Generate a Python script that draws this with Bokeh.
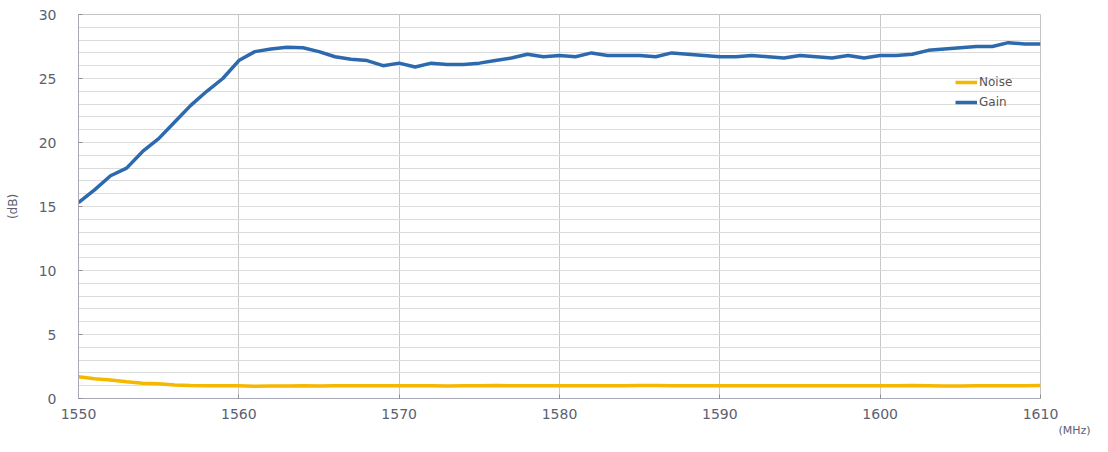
from bokeh.plotting import figure
from bokeh.models import Range1d, FixedTicker, Legend, LegendItem, ColumnDataSource, Title
from bokeh.embed import file_html
from bokeh.resources import INLINE

freq = list(range(1550, 1611))
gain = [15.3, 16.3, 17.4, 18.0, 19.3, 20.3, 21.6, 22.9, 24.0, 25.0,
        26.4, 27.1, 27.3, 27.45, 27.4, 27.1, 26.7, 26.5, 26.4, 26.0,
        26.2, 25.9, 26.2, 26.1, 26.1, 26.2, 26.4, 26.6, 26.9, 26.7,
        26.8, 26.7, 27.0, 26.8, 26.8, 26.8, 26.7, 27.0, 26.9, 26.8,
        26.7, 26.7, 26.8, 26.7, 26.6, 26.8, 26.7, 26.6, 26.8, 26.6,
        26.8, 26.8, 26.9, 27.2, 27.3, 27.4, 27.5, 27.5, 27.8, 27.7,
        27.7]
noise = [1.7, 1.55, 1.45, 1.3, 1.2, 1.15, 1.05, 1.02, 1.0, 1.0,
         1.0, 0.95, 0.97, 0.98, 1.0, 0.98, 1.0, 1.0, 1.0, 1.0,
         1.0, 1.0, 1.0, 0.98, 1.0, 1.0, 1.02, 1.0, 1.0, 1.0,
         1.0, 1.0, 1.0, 1.0, 1.0, 1.02, 1.02, 1.0, 1.0, 1.0,
         1.0, 1.0, 1.0, 1.0, 1.0, 1.0, 1.0, 1.0, 1.0, 1.0,
         1.0, 1.0, 1.02, 1.0, 0.97, 0.97, 1.0, 1.0, 1.0, 1.0,
         1.02]
x_ticks = [1550, 1560, 1570, 1580, 1590, 1600, 1610]
y_ticks = [0, 5, 10, 15, 20, 25, 30]

src = ColumnDataSource(dict(f=freq, gain=gain, noise=noise))

W, H = 1092, 436
p = figure(width=W, height=H, output_backend="svg", toolbar_location=None,
           x_range=Range1d(1550, 1610), y_range=Range1d(0, 30),
           min_border_left=78, min_border_right=52, min_border_top=14, min_border_bottom=0)
p.background_fill_color = "white"
p.outline_line_color = "#c4c4c4"

FONT = "DejaVu Sans"
LABEL_COLOR = "#5b6170"

p.xaxis.ticker = FixedTicker(ticks=x_ticks)
p.yaxis.ticker = FixedTicker(ticks=y_ticks, minor_ticks=list(range(0, 31)))
for ax in (p.xaxis, p.yaxis):
    ax.axis_line_color = "#a8a8b8"
    ax.major_tick_in = 4
    ax.major_tick_out = 0
    ax.major_tick_line_color = "#909090"
    ax.minor_tick_line_color = None
    ax.major_label_text_font = FONT
    ax.major_label_text_font_size = "14px"
    ax.major_label_text_color = LABEL_COLOR
p.xaxis.major_label_standoff = 10
p.yaxis.major_label_standoff = 18
p.yaxis.axis_label = "(dB)"
p.yaxis.axis_label_text_font = FONT
p.yaxis.axis_label_text_font_size = "12px"
p.yaxis.axis_label_text_font_style = "normal"
p.yaxis.axis_label_text_color = LABEL_COLOR
p.yaxis.axis_label_standoff = 16

p.xgrid.grid_line_color = "#c8c8c8"
p.ygrid.grid_line_color = "#dcdcdc"
p.ygrid.minor_grid_line_color = "#dcdcdc"

r_noise = p.line("f", "noise", source=src, line_color="#f5b800", line_width=3.5)
r_gain = p.line("f", "gain", source=src, line_color="#2d6aad", line_width=3.5)

legend = Legend(items=[LegendItem(label="Noise", renderers=[r_noise]),
                       LegendItem(label="Gain", renderers=[r_gain])],
                location=(877, 286), orientation="vertical")
legend.border_line_alpha = 0
legend.background_fill_alpha = 0
legend.padding = 0
legend.margin = 0
legend.spacing = 0
legend.glyph_width = 22
legend.glyph_height = 20
legend.label_height = 20
legend.label_standoff = 2
legend.label_text_font = FONT
legend.label_text_font_size = "12px"
legend.label_text_color = "#555555"
p.add_layout(legend)

unit = Title(text="(MHz)", align="right", offset=-50, standoff=0,
             text_font=FONT, text_font_size="11px", text_font_style="normal",
             text_color=LABEL_COLOR)
p.add_layout(unit, "below")

open("out.html", "w").write(file_html(p, INLINE))
